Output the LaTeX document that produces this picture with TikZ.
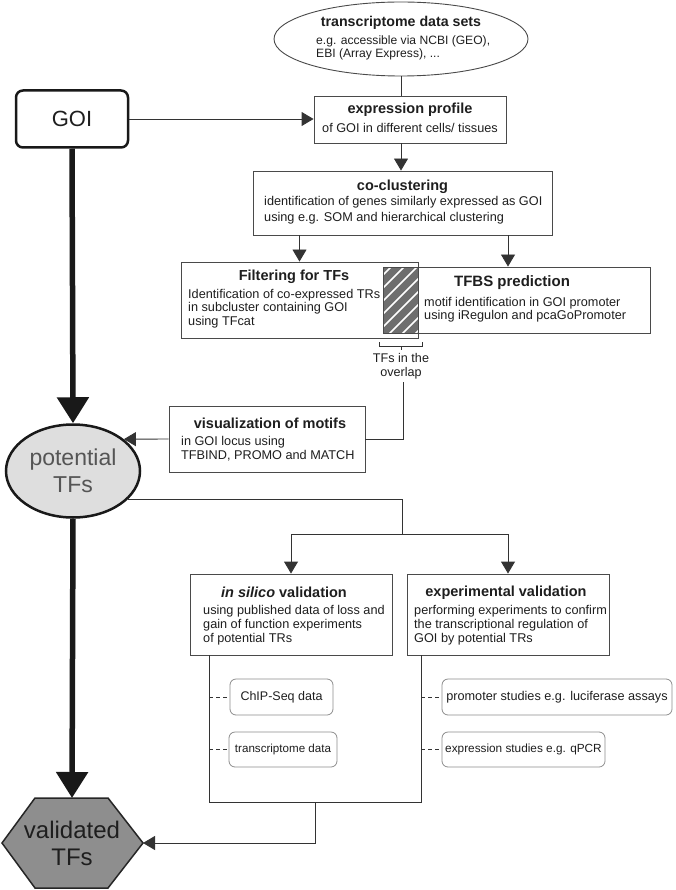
\documentclass[tikz,border=0pt]{standalone}
\usepackage{fontspec}
\setmainfont{Liberation Sans}
\usetikzlibrary{arrows.meta,shapes.geometric,backgrounds,calc}
\definecolor{linec}{HTML}{333333}
\definecolor{boxc}{HTML}{4A4A4A}
\definecolor{txt}{HTML}{1E1E1E}
\definecolor{smallc}{HTML}{8C8C8C}
\definecolor{potfill}{HTML}{DEDEDE}
\definecolor{pottxt}{HTML}{555555}
\definecolor{hexfill}{HTML}{8E8E8E}
\definecolor{hatchc}{HTML}{6E6E6E}
\begin{document}
\begin{tikzpicture}[x=1pt,y=-1pt,
  box/.style={draw=boxc, line width=0.9pt, rectangle, inner sep=0pt},
  ttl/.style={font=\fontsize{14.5}{16}\selectfont\bfseries, text=txt, inner sep=0pt},
  bdy/.style 2 args={font=\fontsize{#1}{#2}\selectfont, text=txt, inner sep=0pt, align=left, anchor=west},
  small/.style={draw=smallc, line width=0.8pt, rounded corners=6pt, inner sep=0pt, text=txt},
  conn/.style={draw=linec, line width=0.9pt},
  arr/.style={conn, -{Triangle[length=12pt,width=14pt]}},
  bigarr/.style={draw=black!90, line width=5.5pt, -{Triangle[length=26pt,width=31pt]}},
  dsh/.style={draw=linec, line width=0.8pt, dash pattern=on 4pt off 3pt}
]
\useasboundingbox (0,0) rectangle (675,890);

% transcriptome data sets
\node[ellipse, draw=boxc, line width=0.9pt, minimum width=254pt, minimum height=74pt, inner sep=0pt] (ell) at (401,39) {};
\node[ttl, font=\fontsize{14.2}{16}\selectfont\bfseries] (ellT) at (401,23) {transcriptome data sets};
\node[bdy={12.1}{12.5}] (ellB) at (316,48) {e.g. accessible via NCBI (GEO),\\EBI (Array Express), ...};

% GOI
\node[draw=black!90, line width=2.5pt, rounded corners=7pt, minimum width=112pt, minimum height=57pt,
      font=\fontsize{22}{24}\selectfont, text=txt] (goi) at (72,119) {GOI};

% expression profile
\node[box, minimum width=192pt, minimum height=47pt] (expr) at (410,119.5) {};
\node[ttl] (exprT) at (410,110) {expression profile};
\node[bdy={12.7}{14}, anchor=center] (exprB) at (410,128) {of GOI in different cells/ tissues};

% co-clustering
\node[box, minimum width=299pt, minimum height=64pt] (cocl) at (402.5,203) {};
\node[ttl] (coclT) at (402.5,187) {co-clustering};
\node[bdy={12.7}{16}] (coclB) at (264,210) {identification of genes similarly expressed as GOI\\using e.g. SOM and hierarchical clustering};

% TFBS prediction
\node[box, minimum width=267pt, minimum height=66pt] (tfbs) at (516.5,300) {};
\node[ttl, font=\fontsize{15}{16}\selectfont\bfseries] (tfbsT) at (512,283) {TFBS prediction};
\node[bdy={12.7}{13}] (tfbsB) at (424,309.5) {motif identification in GOI promoter\\using iRegulon and pcaGoPromoter};

% Filtering for TFs
\node[box, minimum width=237pt, minimum height=76pt] (filt) at (299.5,300) {};
\node[ttl] (filtT) at (294,277) {Filtering for TFs};
\node[bdy={12.7}{13.5}] (filtB) at (188,308.5) {Identification of co-expressed TRs\\in subcluster containing GOI\\using TFcat};

% hatched overlap
\begin{scope}[on background layer]
  \fill[hatchc] (tfbs.north west) rectangle (filt.east |- tfbs.south);
  \begin{scope}
    \clip (tfbs.north west) rectangle (filt.east |- tfbs.south);
    \foreach \k in {0,...,10}
      \draw[white, line width=1.6pt] (383,262+13*\k) -- ++(80,-80);
  \end{scope}
\end{scope}

% bracket
\draw[conn] (379,342) -- (379,346) -- (422,346) -- (422,342);
\draw[conn] (401,346) -- (401,350);
\node[bdy={12.6}{14}, align=center, anchor=center] (ovl) at (401,366) {TFs in the\\overlap};

% visualization of motifs
\node[box, minimum width=196pt, minimum height=66pt] (vis) at (267,439) {};
\node[ttl] (visT) at (270,423) {visualization of motifs};
\node[bdy={12.7}{14}] (visB) at (181,449) {in GOI locus using\\TFBIND, PROMO and MATCH};

% potential TFs
\node[ellipse, draw=black!90, fill=potfill, line width=2.5pt, minimum width=134pt, minimum height=93pt,
      inner sep=0pt, align=center, text=pottxt, font=\fontsize{23}{27}\selectfont] (pot) at (73,471) {potential\\TFs};

% in silico / experimental validation
\node[box, minimum width=202pt, minimum height=81pt] (insil) at (291,614.5) {};
\node[ttl] (insilT) at (284,592) {\textit{in silico} validation};
\node[bdy={12.7}{14}] (insilB) at (203,625) {using published data of loss and\\gain of function experiments\\of potential TRs};

\node[box, minimum width=202pt, minimum height=81pt] (exper) at (508,614.5) {};
\node[ttl] (experT) at (506,593) {experimental validation};
\node[bdy={12.7}{14}] (experB) at (414,625) {performing experiments to confirm\\the transcriptional regulation of\\GOI by potential TRs};

% small boxes
\node[small, minimum width=103pt, minimum height=36pt, font=\fontsize{12.5}{14}\selectfont] (chip) at (281.5,697) {ChIP-Seq data};
\node[small, minimum width=108pt, minimum height=35pt, font=\fontsize{11.6}{14}\selectfont] (trans) at (283,749.5) {transcriptome data};
\node[small, minimum width=230pt, minimum height=36pt, font=\fontsize{12.7}{14}\selectfont] (prom) at (557,697) {promoter studies e.g. luciferase assays};
\node[small, minimum width=163pt, minimum height=35pt, font=\fontsize{11.8}{14}\selectfont] (exps) at (523.5,749.5) {expression studies e.g. qPCR};

% validated TFs hexagon
\coordinate (hexL) at (2,843);
\coordinate (hexTL) at (35,798);
\coordinate (hexTR) at (108,798);
\coordinate (hexR) at (143,843);
\coordinate (hexBR) at (108,888);
\coordinate (hexBL) at (35,888);
\coordinate (hexT) at (72,798);
\draw[fill=hexfill, draw=black!85, line width=1.5pt, line join=miter]
  (hexL) -- (hexTL) -- (hexTR) -- (hexR) -- (hexBR) -- (hexBL) -- cycle;
\node[align=center, text=txt, font=\fontsize{24}{27}\selectfont, inner sep=0pt] (valT) at (72,843) {validated\\TFs};

% connectors
\draw[conn] (ell.south) -- (ell.south |- expr.north);
\draw[arr] (goi.east) -- (goi.east -| expr.west);
\draw[arr] (expr.south -| ell.south) -- (cocl.north -| ell.south);
\draw[arr] (filt.north |- cocl.south) -- (filt.north);
\draw[arr] ([xshift=-8.5pt]tfbs.north |- cocl.south) -- ([xshift=-8.5pt]tfbs.north);
\draw[conn] ([xshift=2pt,yshift=-3pt]ovl.south) |- (vis.east);
\draw[arr] (vis.west) -- (pot.32);

\coordinate (sp) at (402,534);
\draw[conn] (pot.-27) -| (sp);
\draw[arr] (sp) -| (insil.north);
\draw[arr] (sp) -| (exper.north);

\coordinate (bl) at (209,802);
\coordinate (br) at (421,802);
\coordinate (bm) at (315,802);
\draw[conn] (insil.south -| bl) -- (bl) -- (br) -- (exper.south -| br);
\draw[arr] (bm) |- (hexR);

\draw[dsh] (chip.west -| bl) -- (chip.west);
\draw[dsh] (trans.west -| bl) -- (trans.west);
\draw[dsh] (prom.west -| br) -- (prom.west);
\draw[dsh] (exps.west -| br) -- (exps.west);

\draw[bigarr] (goi.south) -- (pot.north);
\draw[bigarr] (pot.south) -- (hexT);
\end{tikzpicture}
\end{document}
